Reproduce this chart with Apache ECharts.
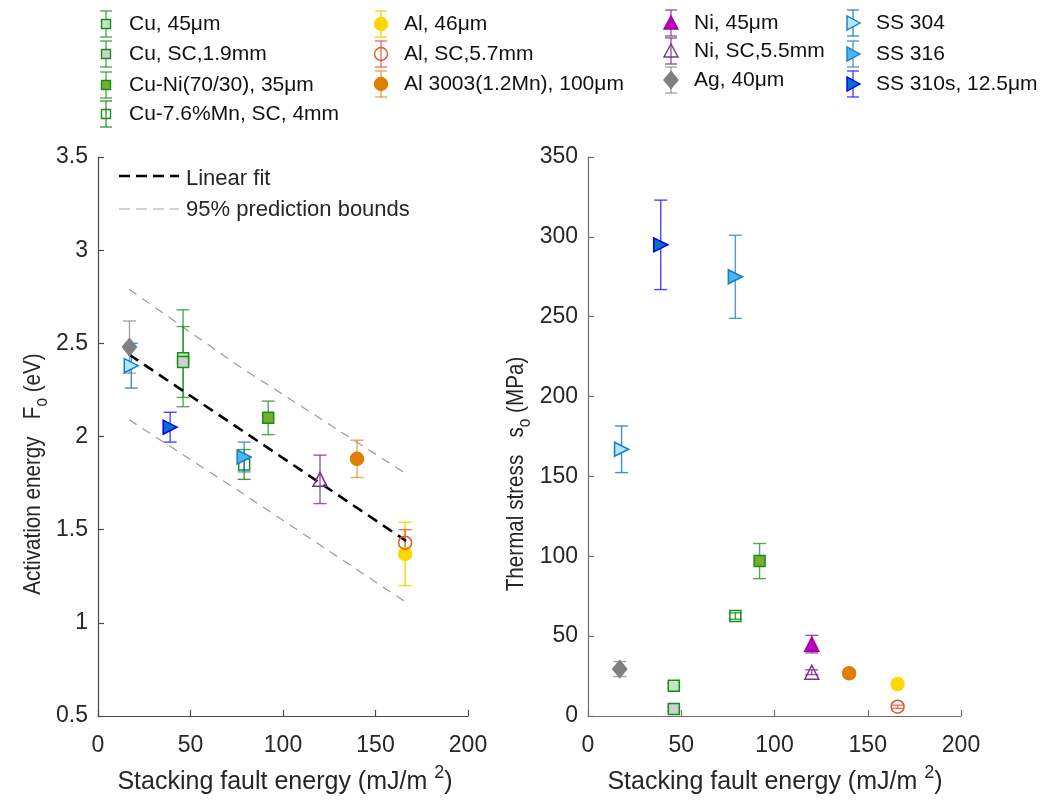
<!DOCTYPE html>
<html><head><meta charset="utf-8">
<script src="https://cdn.jsdelivr.net/npm/echarts@6/dist/echarts.min.js"></script>
<style>html,body{margin:0;padding:0;background:#fff}#c{width:1048px;height:806px}</style>
</head><body><div id="c"></div>
<script>
// ---------------- DATA ----------------
const materials = ['Cu, 45μm', 'Cu, SC,1.9mm', 'Cu-Ni(70/30), 35μm', 'Cu-7.6%Mn, SC, 4mm',
  'Al, 46μm', 'Al, SC,5.7mm', 'Al 3003(1.2Mn), 100μm',
  'Ni, 45μm', 'Ni, SC,5.5mm', 'Ag, 40μm',
  'SS 304', 'SS 316', 'SS 310s, 12.5μm'];
const stackingFaultEnergy = [46, 46, 92, 79, 166, 166, 140, 120, 120, 17, 18, 79, 39];
const activationEnergy = [2.42, 2.40, 2.10, 1.85, 1.37, 1.43, 1.88, null, 1.77, 2.48, 2.38, 1.89, 2.05];
const activationErr    = [0.26, 0.19, 0.09, 0.08, 0.17, 0.07, 0.10, null, 0.13, 0.14, 0.12, 0.08, 0.08];
const thermalStress = [19, 4.4, 97, 62.6, 20, 5.8, 26.7, 45, 27.4, 29.4, 167, 275, 295];
const thermalErr    = [1.5, 1.5, 11, 2, 1.5, 1, 2, 5.5, 1.5, 4.7, 14.6, 26, 28];
const fitSfe = [16.8, 166.5];
const fitLine = [2.44, 1.44];
const boundSfe = [16.8, 75.8, 166.5];
const upperBound = [2.79, 2.38, 1.80];
const lowerBound = [2.09, 1.71, 1.11];
const xTicks = [0, 50, 100, 150, 200];
const leftYTicks = [0.5, 1, 1.5, 2, 2.5, 3, 3.5];
const rightYTicks = [0, 50, 100, 150, 200, 250, 300, 350];

// ---------------- STYLES ----------------
const G = '#178f17';
const styles = [
  {sym:'rect', size:11, fill:'#c5e3c5', edge:G, err:'rgba(30,140,30,0.75)'},
  {sym:'rect', size:11, fill:'#cfcfcf', edge:G, err:'rgba(30,140,30,0.75)'},
  {sym:'rect', size:11, fill:'#77ac30', edge:G, err:'rgba(30,140,30,0.75)'},
  {sym:'rect', size:11, fill:'rgba(255,255,255,0)', edge:G, err:'rgba(30,140,30,0.85)'},
  {sym:'circle', size:13, fill:'#ffd700', edge:'#ffd700', err:'rgba(250,205,0,0.9)'},
  {sym:'circle', size:13, fill:'rgba(255,255,255,0)', edge:'#e0562a', err:'rgba(224,86,42,0.8)'},
  {sym:'circle', size:13, fill:'#e07e00', edge:'#e07e00', err:'rgba(228,140,40,0.75)'},
  {sym:'up', size:14, fill:'#c000c0', edge:'#a000a0', err:'rgba(130,50,150,0.8)'},
  {sym:'up', size:14, fill:'rgba(255,255,255,0)', edge:'#7e2f8e', err:'rgba(126,47,142,0.8)'},
  {sym:'diamond', size:[14,17], fill:'#808080', edge:'#808080', err:'rgba(128,128,128,0.7)'},
  {sym:'right', size:14, fill:'#aee6fa', edge:'#1a7cc8', err:'rgba(26,124,200,0.85)'},
  {sym:'right', size:14, fill:'#4ab6ec', edge:'#1a7cc8', err:'rgba(26,124,200,0.75)'},
  {sym:'right', size:14, fill:'#0a6fc0', edge:'#0000ff', err:'rgba(40,40,255,0.85)'}
];
const FONT = '"Liberation Sans", Arial, Helvetica, sans-serif';
const TXT = '#262626';

function symOf(s){
  if (s.sym === 'up') return {symbol:'triangle', rot:0};
  if (s.sym === 'right') return {symbol:'triangle', rot:-90};
  return {symbol:s.sym, rot:0};
}

function errSeries(axIdx, data, color){
  return {
    type:'custom', xAxisIndex:axIdx, yAxisIndex:axIdx, data, silent:true, z:2,
    renderItem:(params, api)=>{
      const x = api.value(0), y = api.value(1), e = api.value(2);
      const p1 = api.coord([x, y + e]), p2 = api.coord([x, y - e]);
      const st = {stroke:color, lineWidth:1.4};
      const w = 6.5;
      return {type:'group', children:[
        {type:'line', shape:{x1:p1[0], y1:p1[1], x2:p2[0], y2:p2[1]}, style:st},
        {type:'line', shape:{x1:p1[0]-w, y1:p1[1], x2:p1[0]+w, y2:p1[1]}, style:st},
        {type:'line', shape:{x1:p2[0]-w, y1:p2[1], x2:p2[0]+w, y2:p2[1]}, style:st}
      ]};
    }
  };
}

const series = [];
series.push({type:'line', xAxisIndex:0, yAxisIndex:0, data:boundSfe.map((x,i)=>[x, upperBound[i]]), symbol:'none', silent:true,
  lineStyle:{color:'#9a9a9a', width:1.2, type:[9,7]}, z:1});
series.push({type:'line', xAxisIndex:0, yAxisIndex:0, data:boundSfe.map((x,i)=>[x, lowerBound[i]]), symbol:'none', silent:true,
  lineStyle:{color:'#9a9a9a', width:1.2, type:[9,7]}, z:1});
series.push({type:'line', xAxisIndex:0, yAxisIndex:0, data:fitSfe.map((x,i)=>[x, fitLine[i]]), symbol:'none', silent:true,
  lineStyle:{color:'#000', width:2.6, type:[11,7]}, z:3});

[[activationEnergy, activationErr], [thermalStress, thermalErr]].forEach(([vals, errs], ax)=>{
  materials.forEach((m, i)=>{
    if (vals[i] == null) return;
    const s = styles[i];
    const so = symOf(s);
    series.push(errSeries(ax, [[stackingFaultEnergy[i], vals[i], errs[i]]], s.err));
    series.push({type:'scatter', name:m, xAxisIndex:ax, yAxisIndex:ax, data:[[stackingFaultEnergy[i], vals[i]]],
      symbol:so.symbol, symbolRotate:so.rot, symbolSize:s.size, z:4, silent:true,
      itemStyle:{color:s.fill, borderColor:s.edge, borderWidth:1.5, opacity:1}});
  });
});

function xAxisCfg(idx, col){
  return {type:'value', gridIndex:idx, min:xTicks[0], max:xTicks[xTicks.length-1], interval:50,
    axisLine:{show:true, onZero:false, lineStyle:{color:col, width:1.2}},
    axisTick:{show:true, inside:true, length:6, lineStyle:{color:col, width:1.2}},
    axisLabel:{color:TXT, fontSize:23, fontFamily:FONT, margin:18},
    splitLine:{show:false}};
}
function yAxisCfg(idx, min, max, interval, col){
  return {type:'value', gridIndex:idx, min, max, interval,
    axisLine:{show:true, onZero:false, lineStyle:{color:col, width:1.2}},
    axisTick:{show:true, inside:true, length:6, lineStyle:{color:col, width:1.2}},
    axisLabel:{color:TXT, fontSize:23, fontFamily:FONT, margin:10},
    splitLine:{show:false}};
}

const mctx = document.createElement('canvas').getContext('2d');
function tw(t, size){ mctx.font = size + 'px ' + FONT; return mctx.measureText(t).width; }

const graphic = [];
function yName(cx, cy, main, sub, tail){
  const fs = 24, ss = 18, k = 0.86;
  const w1 = tw(main, fs)*k, w2 = tw(sub, ss)*k, w3 = tw(tail, fs)*k;
  const L = w1 + w2 + w3;
  const y0 = cy + L/2;
  const base = {rotation:Math.PI/2, scaleX:k, scaleY:1, silent:true};
  graphic.push(Object.assign({type:'text', x:cx, y:y0, style:{text:main, font:fs+'px '+FONT, fill:TXT, textAlign:'left', textVerticalAlign:'middle'}}, base));
  graphic.push(Object.assign({type:'text', x:cx+9, y:y0 - w1, style:{text:sub, font:ss+'px '+FONT, fill:TXT, textAlign:'left', textVerticalAlign:'middle'}}, base));
  graphic.push(Object.assign({type:'text', x:cx, y:y0 - w1 - w2, style:{text:tail, font:fs+'px '+FONT, fill:TXT, textAlign:'left', textVerticalAlign:'middle'}}, base));
}
yName(33, 474, 'Activation energy   F', 'o', ' (eV)');
yName(516, 474, 'Thermal stress   s', 'o', ' (MPa)');

function xName(cx, cy){
  const fs = 25, ss = 18;
  const a = 'Stacking fault energy (mJ/m ', b = '2', c = ')';
  const w1 = tw(a, fs), w2 = tw(b, ss), w3 = tw(c, fs);
  const x0 = cx - (w1 + w2 + w3)/2;
  graphic.push({type:'text', x:x0, y:cy, silent:true, style:{text:a, font:fs+'px '+FONT, fill:TXT, textAlign:'left', textVerticalAlign:'middle'}});
  graphic.push({type:'text', x:x0 + w1, y:cy - 9, silent:true, style:{text:b, font:ss+'px '+FONT, fill:TXT, textAlign:'left', textVerticalAlign:'middle'}});
  graphic.push({type:'text', x:x0 + w1 + w2, y:cy, silent:true, style:{text:c, font:fs+'px '+FONT, fill:TXT, textAlign:'left', textVerticalAlign:'middle'}});
}
xName(285, 782);
xName(775, 782);

graphic.push({type:'line', silent:true, shape:{x1:119, y1:176, x2:179, y2:176}, style:{stroke:'#000', lineWidth:2.4, lineDash:[11,6]}});
graphic.push({type:'text', silent:true, x:186, y:179, style:{text:'Linear fit', font:'22px '+FONT, fill:TXT, textVerticalAlign:'middle'}});
graphic.push({type:'line', silent:true, shape:{x1:119, y1:209, x2:179, y2:209}, style:{stroke:'#aaa', lineWidth:1.2, lineDash:[11,6]}});
graphic.push({type:'text', silent:true, x:186, y:210, style:{text:'95% prediction bounds', font:'22px '+FONT, fill:TXT, textVerticalAlign:'middle'}});

const legendPos = [[106,24],[106,54],[106,85],[106,114],[381,24],[381,54],[381,84],[671,23],[671,51],[671,80],[853,23],[853,54],[853,84]];
function legendMarker(s, cx, cy){
  const st = {fill:s.fill, stroke:s.edge, lineWidth:1.4};
  if (s.sym === 'rect') { const z = 9; return {type:'rect', shape:{x:cx-z/2, y:cy-z/2, width:z, height:z}, style:st}; }
  if (s.sym === 'circle') return {type:'circle', shape:{cx, cy, r:6.5}, style:st};
  if (s.sym === 'up') return {type:'polygon', shape:{points:[[cx,cy-7],[cx+7,cy+6],[cx-7,cy+6]]}, style:st};
  if (s.sym === 'right') return {type:'polygon', shape:{points:[[cx+7,cy],[cx-6,cy-7],[cx-6,cy+7]]}, style:st};
  return {type:'polygon', shape:{points:[[cx,cy-8.5],[cx+7,cy],[cx,cy+8.5],[cx-7,cy]]}, style:st};
}
materials.forEach((m, i)=>{
  const s = styles[i], [cx, cy] = legendPos[i];
  const es = {stroke:s.err, lineWidth:1.4};
  graphic.push({type:'group', silent:true, children:[
    {type:'line', shape:{x1:cx, y1:cy-13, x2:cx, y2:cy+13}, style:es},
    {type:'line', shape:{x1:cx-6, y1:cy-13, x2:cx+6, y2:cy-13}, style:es},
    {type:'line', shape:{x1:cx-6, y1:cy+13, x2:cx+6, y2:cy+13}, style:es},
    legendMarker(s, cx, cy),
    {type:'text', x:cx+23, y:cy, style:{text:m, font:'21px '+FONT, fill:'#111', textAlign:'left', textVerticalAlign:'middle'}}
  ]});
});

const chart = echarts.init(document.getElementById('c'), null, {renderer:'canvas'});
chart.setOption({
  animation:false,
  backgroundColor:'#fff',
  grid:[
    {left:98, right:580, top:157, bottom:90, containLabel:false},
    {left:588, right:87, top:157, bottom:90, containLabel:false}
  ],
  xAxis:[xAxisCfg(0, '#4a4a4a'), xAxisCfg(1, '#6e6e6e')],
  yAxis:[yAxisCfg(0, leftYTicks[0], leftYTicks[leftYTicks.length-1], 0.5, '#4a4a4a'),
         yAxisCfg(1, rightYTicks[0], rightYTicks[rightYTicks.length-1], 50, '#6e6e6e')],
  series,
  graphic
});
</script>
</body></html>
